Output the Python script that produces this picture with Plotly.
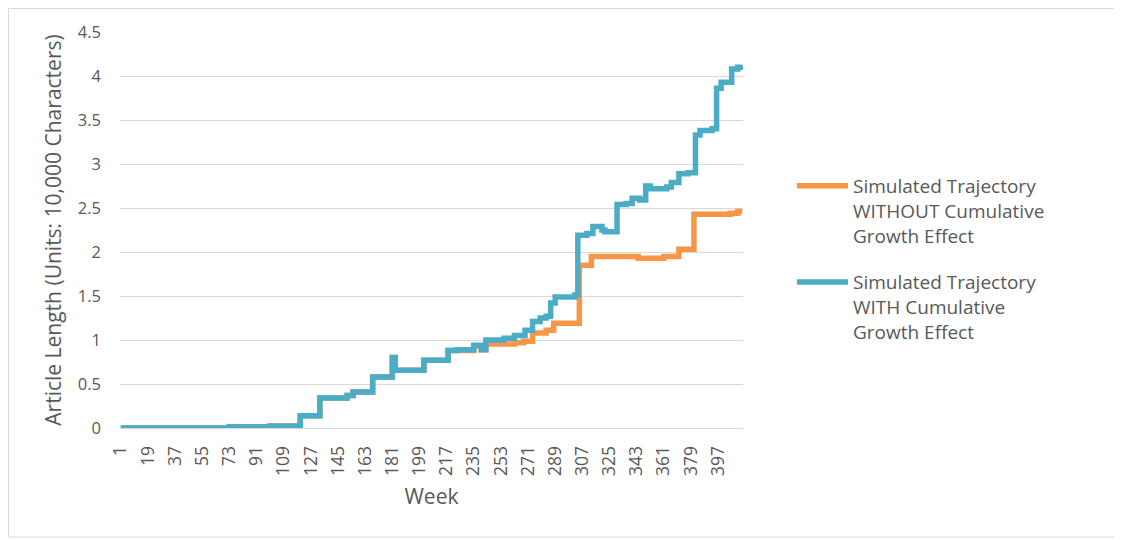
import plotly.graph_objects as go

# Step-change points (week where the level changes, new level)
weeks_without = [1, 73, 100, 120, 133, 151, 155, 168, 181, 183, 202, 218, 235, 240, 243,
                 262, 268, 274, 283, 288, 305, 313, 344, 361, 371, 381, 405, 410, 413]
vals_without = [0.0, 0.015, 0.025, 0.14, 0.34, 0.37, 0.41, 0.58, 0.80, 0.655, 0.77, 0.88, 0.93, 0.89, 0.955,
                0.97, 0.985, 1.08, 1.11, 1.19, 1.85, 1.95, 1.93, 1.95, 2.03, 2.43, 2.44, 2.46, 2.46]

weeks_with = [1, 73, 100, 120, 133, 151, 155, 168, 181, 183, 202, 218, 224, 235, 240, 243,
              255, 262, 269, 274, 279, 283, 286, 289, 302, 304, 310, 314, 320, 322, 330, 336,
              340, 345, 349, 352, 363, 366, 371, 377, 382, 385, 393, 396, 399, 406, 410, 413]
vals_with = [0.0, 0.01, 0.02, 0.14, 0.34, 0.37, 0.41, 0.58, 0.80, 0.655, 0.77, 0.88, 0.89, 0.94, 0.89, 1.0,
             1.02, 1.05, 1.11, 1.21, 1.25, 1.27, 1.42, 1.49, 1.51, 2.19, 2.21, 2.29, 2.25, 2.23, 2.54, 2.55,
             2.61, 2.59, 2.75, 2.72, 2.74, 2.79, 2.89, 2.90, 3.33, 3.38, 3.40, 3.86, 3.93, 4.08, 4.10, 4.12]

tick_weeks = [1, 19, 37, 55, 73, 91, 109, 127, 145, 163, 181, 199, 217, 235, 253, 271,
              289, 307, 325, 343, 361, 379, 397]
tick_labels = [str(w) for w in tick_weeks]
y_ticks = [0, 0.5, 1, 1.5, 2, 2.5, 3, 3.5, 4, 4.5]
y_labels = ["0", "0.5", "1", "1.5", "2", "2.5", "3", "3.5", "4", "4.5"]

name_without = "Simulated Trajectory<br>WITHOUT Cumulative<br>Growth Effect"
name_with = "Simulated Trajectory<br>WITH Cumulative<br>Growth Effect"

ORANGE = "#F79646"
BLUE = "#4BACC6"
TXT = "#595959"
GRID = "#D9D9D9"
FONT = "Open Sans"

fig = go.Figure()
fig.add_trace(go.Scatter(x=weeks_without, y=vals_without, mode="lines", name=name_without,
                         line=dict(color=ORANGE, width=5.5, shape="hv"), legendgroup="a"))
fig.add_trace(go.Scatter(x=weeks_with, y=vals_with, mode="lines", name=name_with,
                         line=dict(color=BLUE, width=5.5, shape="hv"), legendgroup="b"))

# page body has an 8px margin; figure coordinates are screen coordinates minus 8
W, H = 1114, 532
L, T = 112, 24
pw, ph = 623, 396
R, B = W - L - pw, H - T - ph

def px(xs):
    return (xs - 8 - L) / pw

def py(ys):
    return (H - B - (ys - 8)) / ph

fig.update_layout(
    width=W, height=H,
    margin=dict(l=L, r=R, t=T, b=B),
    paper_bgcolor="white", plot_bgcolor="white",
    font=dict(family=FONT, color=TXT, size=16),
    legend=dict(x=px(792), y=py(167), xanchor="left", yanchor="top", valign="top",
                itemwidth=51, font=dict(size=19, color=TXT), tracegroupgap=19,
                bgcolor="rgba(0,0,0,0)"),
    showlegend=True,
    shapes=[dict(type="rect", xref="paper", yref="paper",
                 x0=(0.5 - L) / pw, x1=(1111 - L) / pw, y0=(H - B - 529) / ph, y1=(H - B - 0.5) / ph,
                 line=dict(color=GRID, width=1), fillcolor="rgba(0,0,0,0)", layer="below")],
)
fig.update_xaxes(
    range=[0.5, 413.5], tickmode="array", tickvals=tick_weeks, ticktext=tick_labels,
    tickangle=-90, tickfont=dict(size=17.5, color=TXT), showgrid=False, zeroline=False,
    showline=True, linecolor=GRID, linewidth=1, ticks="", ticklabelstandoff=10,
    title=dict(text="Week", font=dict(size=21, color=TXT), standoff=14),
)
fig.update_yaxes(
    range=[0, 4.5], tickmode="array", tickvals=y_ticks, ticktext=y_labels,
    tickfont=dict(size=16.5, color=TXT), showgrid=True, gridcolor=GRID, gridwidth=1,
    zeroline=False, showline=False, ticks="", ticklabelstandoff=18,
    title=dict(text="Article Length (Units: 10,000 Characters)", font=dict(size=21, color=TXT), standoff=10),
)

fig.write_html("out.html")
